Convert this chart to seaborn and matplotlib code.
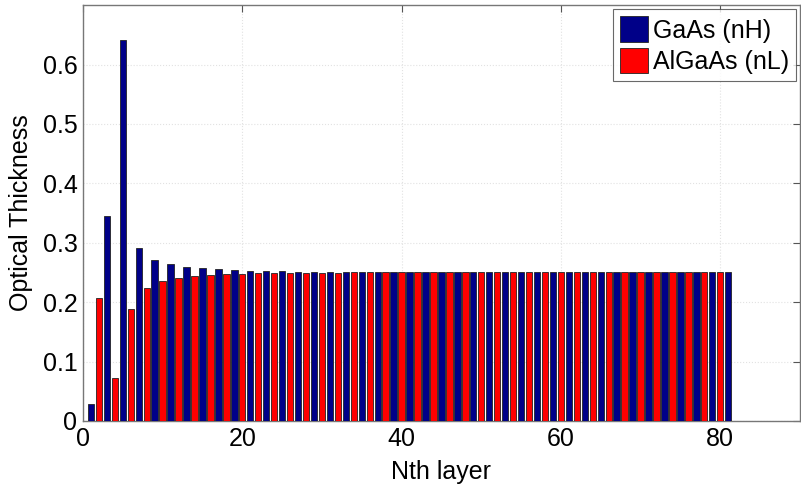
import numpy as np
import matplotlib
matplotlib.use("Agg")
import matplotlib.pyplot as plt
import seaborn as sns
import pandas as pd

# optical thickness per layer, layers 1..81
layers = list(range(1, 82))
thickness = [
    0.028, 0.207, 0.345, 0.073, 0.642, 0.188, 0.292, 0.223, 0.271, 0.235,
    0.264, 0.241, 0.259, 0.244, 0.257, 0.246, 0.255, 0.247, 0.254, 0.248,
    0.253, 0.249, 0.2525, 0.2495, 0.252, 0.2495, 0.2515, 0.2497, 0.251, 0.2498,
    0.2505, 0.2499, 0.2503, 0.25, 0.2502, 0.25, 0.2501, 0.25, 0.25, 0.25,
    0.25, 0.25, 0.25, 0.25, 0.25, 0.25, 0.25, 0.25, 0.25, 0.25,
    0.25, 0.25, 0.25, 0.25, 0.25, 0.25, 0.25, 0.25, 0.25, 0.25,
    0.25, 0.25, 0.25, 0.25, 0.25, 0.25, 0.25, 0.25, 0.25, 0.25,
    0.25, 0.25, 0.25, 0.25, 0.25, 0.25, 0.25, 0.25, 0.25, 0.25,
    0.25,
]
materials = ["GaAs (nH)", "AlGaAs (nL)"]
colors = {"GaAs (nH)": "#000088", "AlGaAs (nL)": "#ff0000"}

x_ticks = [0, 20, 40, 60, 80]
y_ticks = [0, 0.1, 0.2, 0.3, 0.4, 0.5, 0.6]
y_tick_labels = ["0", "0.1", "0.2", "0.3", "0.4", "0.5", "0.6"]

df = pd.DataFrame({
    "layer": layers,
    "thickness": thickness,
    "material": [materials[(n - 1) % 2] for n in layers],
})

sns.set_style("white")
plt.rcParams["font.family"] = ["Liberation Sans", "DejaVu Sans"]
plt.rcParams["text.color"] = "black"
plt.rcParams["axes.labelcolor"] = "black"
plt.rcParams["xtick.labelcolor"] = "black"
plt.rcParams["ytick.labelcolor"] = "black"

fig = plt.figure(figsize=(8.01, 4.91), dpi=100)
ax = fig.add_axes([0.1036, 0.1426, 0.895, 0.847])

sns.barplot(data=df, x="layer", y="thickness", hue="material",
            hue_order=materials, palette=colors, saturation=1,
            native_scale=True, dodge=False, width=0.8,
            edgecolor="#222222", linewidth=0.6, ax=ax, zorder=3)

ax.set_xlim(0, 90)
ax.set_ylim(0, 0.7)
ax.set_xticks(x_ticks)
ax.set_xticklabels([str(t) for t in x_ticks])
ax.set_yticks(y_ticks)
ax.set_yticklabels(y_tick_labels)
ax.tick_params(labelsize=18, direction="in", length=5, top=True, right=True,
               color="#555555", pad=4)
ax.grid(True, color="#e2e2e2", linestyle=":", linewidth=0.8, zorder=0)
ax.set_axisbelow(True)
for sp in ax.spines.values():
    sp.set_color("#777777")
    sp.set_linewidth(1.0)

ax.set_xlabel("Nth layer", fontsize=18, labelpad=7)
ax.set_ylabel("Optical Thickness", fontsize=18, labelpad=7)

leg = ax.legend(loc="upper right", fontsize=18, frameon=True, fancybox=False,
                handlelength=1.1, handleheight=1.2, handletextpad=0.2,
                borderpad=0.3, labelspacing=0.2, borderaxespad=0.15)
leg.get_frame().set_edgecolor("#444444")
leg.get_frame().set_linewidth(0.8)
leg.set_title(None)

fig.savefig("out.png", dpi=100)
